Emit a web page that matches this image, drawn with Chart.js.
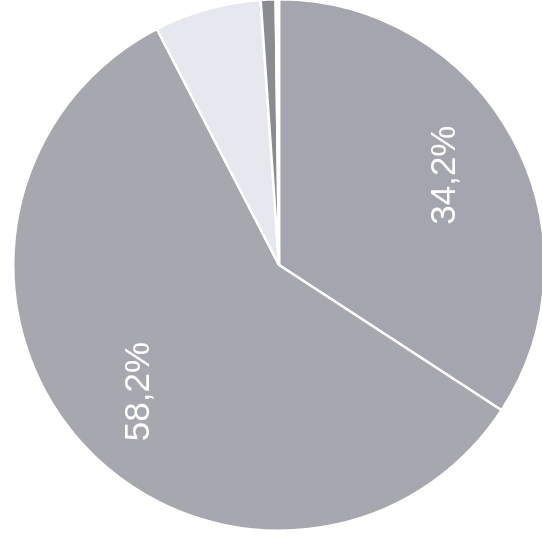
<!DOCTYPE html>
<html>
<head>
<meta charset="utf-8">
<script src="https://cdn.jsdelivr.net/npm/chart.js@4"></script>
<style>
  html, body { margin: 0; padding: 0; background: #ffffff; overflow: hidden; }
  body { width: 542px; height: 544px; position: relative; }
  #wrap { position: absolute; left: 12px; top: -2px; width: 534px; height: 534px; }
</style>
</head>
<body>
<div id="wrap"><canvas id="c" width="534" height="534"></canvas></div>
<script>
const categories = ["A", "B", "C", "D", "E"];
const values = [34.2, 58.2, 6.5, 0.9, 0.2];
const shownLabels = ["34,2%", "58,2%", "", "", ""];
const colors = ["#a4a5ae", "#a7a7af", "#e7e7ef", "#8b8b92", "#ffffff"];

const labelPlugin = {
  id: "sliceLabels",
  afterDatasetsDraw(chart) {
    const ctx = chart.ctx;
    const meta = chart.getDatasetMeta(0);
    meta.data.forEach((arc, i) => {
      const txt = shownLabels[i];
      if (!txt) return;
      const p = arc.getProps(["x", "y", "startAngle", "endAngle", "outerRadius"], true);
      const mid = (p.startAngle + p.endAngle) / 2;
      const r = p.outerRadius * 0.71;
      const x = p.x + Math.cos(mid) * r;
      const y = p.y + Math.sin(mid) * r;
      ctx.save();
      ctx.translate(x, y);
      ctx.rotate(-Math.PI / 2);
      ctx.fillStyle = "#ffffff";
      ctx.font = "35px 'Liberation Sans', Arial, sans-serif";
      ctx.textAlign = "center";
      ctx.textBaseline = "middle";
      ctx.fillText(txt, 0, 0);
      ctx.restore();
    });
  }
};

new Chart(document.getElementById("c"), {
  type: "pie",
  data: {
    labels: categories,
    datasets: [{
      data: values,
      backgroundColor: colors,
      borderColor: "#ffffff",
      borderWidth: 2.5,
      hoverOffset: 0
    }]
  },
  options: {
    responsive: false,
    animation: false,
    layout: { padding: 0 },
    plugins: {
      legend: { display: false },
      tooltip: { enabled: false },
      title: { display: false }
    }
  },
  plugins: [labelPlugin]
});
</script>
</body>
</html>
